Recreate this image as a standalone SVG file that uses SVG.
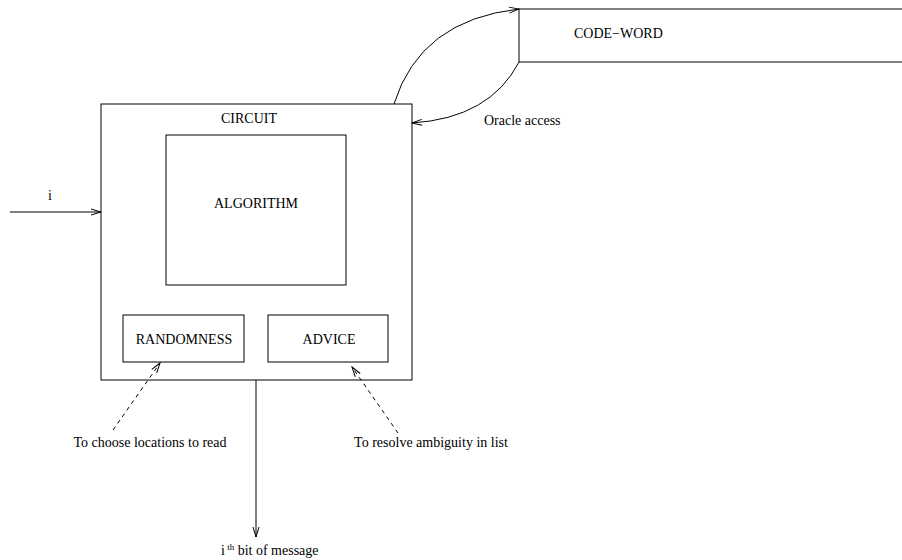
<svg xmlns="http://www.w3.org/2000/svg" width="902" height="560" viewBox="0 0 902 560">
<style>
.box{fill:none;stroke:#000;stroke-width:1}
text{font-family:"Liberation Serif","Times New Roman",serif;font-size:14px;fill:#000}
.c{stroke:#000;stroke-width:1;fill:none}
.d{stroke-dasharray:4,4}
</style>
<defs>
<marker id="a" markerWidth="12" markerHeight="8" refX="11" refY="4" orient="auto" markerUnits="userSpaceOnUse">
<path d="M1,1 L11,4 L1,7" fill="none" stroke="#000" stroke-width="1"/>
</marker>
</defs>
<rect width="902" height="560" fill="#fff"/>
<g id="codeword">
<path class="box" d="M902,9 H519 V62 H902"/>
<text x="574" y="38" font-size="13">CODE−WORD</text>
</g>
<g id="circuit">
<rect class="box" x="101" y="104" width="311" height="276"/>
<text x="249" y="123" text-anchor="middle" font-size="13">CIRCUIT</text>
</g>
<g id="algorithm">
<rect class="box" x="166" y="135" width="180" height="150"/>
<text x="256" y="208" text-anchor="middle" font-size="13">ALGORITHM</text>
</g>
<g id="randomness">
<rect class="box" x="123" y="315" width="121" height="47"/>
<text x="184" y="344" text-anchor="middle" font-size="13">RANDOMNESS</text>
</g>
<g id="advice">
<rect class="box" x="268" y="315" width="120" height="47"/>
<text x="329" y="344" text-anchor="middle" font-size="13">ADVICE</text>
</g>
<g id="connectors">
<path class="c" d="M394,104 Q420,20 519,9" marker-end="url(#a)"/>
<path class="c" d="M519,62 Q490,118 412,123" marker-end="url(#a)"/>
<line class="c" x1="10" y1="212" x2="101" y2="212" marker-end="url(#a)"/>
<line class="c" x1="256" y1="380" x2="256" y2="537" marker-end="url(#a)"/>
<line class="c d" x1="113" y1="430" x2="160" y2="363" marker-end="url(#a)"/>
<line class="c d" x1="398" y1="433" x2="352" y2="367" marker-end="url(#a)"/>
</g>
<g id="labels">
<text x="48" y="200" font-size="13">i</text>
<text x="484" y="125" font-size="13">Oracle access</text>
<text x="150" y="447" text-anchor="middle" font-size="13">To choose locations to read</text>
<text x="431" y="447" text-anchor="middle" font-size="13">To resolve ambiguity in list</text>
<text x="221" y="555" font-size="13">i<tspan font-size="9" dy="-5"> th</tspan><tspan dy="5"> bit of message</tspan></text>
</g>
</svg>
